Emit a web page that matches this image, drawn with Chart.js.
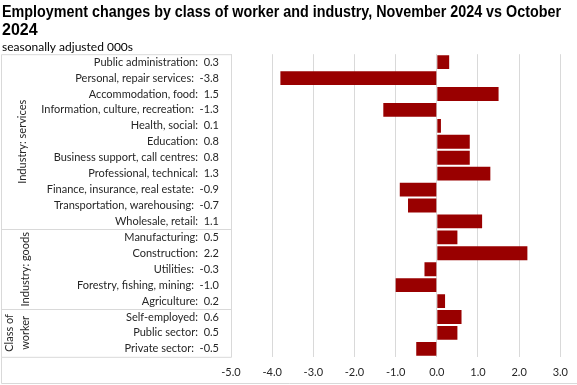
<!DOCTYPE html>
<html>
<head>
<meta charset="utf-8">
<script src="https://cdn.jsdelivr.net/npm/chart.js@4"></script>
<style>
  body { margin: 0; background: #fff; }
  #wrap { width: 577px; height: 385px; position: relative; }
</style>
</head>
<body>
<div id="wrap"><canvas id="chart"></canvas></div>
<script>
/* ------------------------------- Data ------------------------------- */
const categories = [
  'Public administration', 'Personal, repair services', 'Accommodation, food',
  'Information, culture, recreation', 'Health, social', 'Education',
  'Business support, call centres', 'Professional, technical',
  'Finance, insurance, real estate', 'Transportation, warehousing', 'Wholesale, retail',
  'Manufacturing', 'Construction', 'Utilities', 'Forestry, fishing, mining', 'Agriculture',
  'Self-employed', 'Public sector', 'Private sector'
];
const values = [0.3, -3.8, 1.5, -1.3, 0.1, 0.8, 0.8, 1.3, -0.9, -0.7, 1.1,
                0.5, 2.2, -0.3, -1.0, 0.2,
                0.6, 0.5, -0.5];
const groupNames = [['Industry: services'], ['Industry: goods'], ['Class of', 'worker']];
const groupSizes = [11, 5, 3];
const xMin = -5, xMax = 3;

const titleLines = ['Employment changes by class of worker and industry, November 2024 vs October', '2024'];
const subtitle = 'seasonally adjusted 000s';

const labels = categories.map((c, i) => `${c}:  ${values[i].toFixed(1)}`);
const FONT = 'Lato, "Open Sans", sans-serif';
const TXT = '#262626';

/* --------------------- Grouped label box plugin --------------------- */
const groupBox = {
  id: 'groupBox',
  afterDraw(chart) {
    const { ctx, chartArea, scales } = chart;
    const y = scales.y;
    const L = 1.5, R = chartArea.left + 0.5, T = chartArea.top + 0.5, B = chartArea.bottom + 0.5;
    const bottom = chart.height - 1.5;
    ctx.save();
    ctx.strokeStyle = '#d9d9d9';
    ctx.lineWidth = 1;
    ctx.beginPath();
    ctx.rect(L, T, R - L, B - T);
    ctx.moveTo(L, B); ctx.lineTo(L, bottom); ctx.lineTo(chart.width, bottom);
    ctx.stroke();

    let start = 0;
    groupSizes.forEach((n, g) => {
      const end = start + n - 1;
      const top = start === 0 ? chartArea.top : (y.getPixelForValue(start - 1) + y.getPixelForValue(start)) / 2;
      const bot = end === categories.length - 1 ? chartArea.bottom : (y.getPixelForValue(end) + y.getPixelForValue(end + 1)) / 2;
      if (end < categories.length - 1) {
        ctx.beginPath();
        ctx.moveTo(L, Math.round(bot) + 0.5);
        ctx.lineTo(R, Math.round(bot) + 0.5);
        ctx.stroke();
      }
      const lines = groupNames[g];
      ctx.fillStyle = TXT;
      ctx.font = `11px ${FONT}`;
      ctx.textAlign = 'center';
      ctx.textBaseline = 'middle';
      lines.forEach((t, k) => {
        const x = lines.length === 1 ? (g === 0 ? 22 : 25) : (k === 0 ? 9 : 25);
        ctx.save();
        ctx.translate(x, (top + bot) / 2);
        ctx.rotate(-Math.PI / 2);
        ctx.fillText(t, 0, 0);
        ctx.restore();
      });
      start += n;
    });
    ctx.restore();
  }
};

/* ------------------------------ Chart ------------------------------- */
new Chart(document.getElementById('chart'), {
  type: 'bar',
  data: {
    labels: labels,
    datasets: [{
      data: values,
      backgroundColor: '#990000',
      borderWidth: 0,
      categoryPercentage: 1,
      barPercentage: 0.87
    }]
  },
  options: {
    indexAxis: 'y',
    responsive: true,
    maintainAspectRatio: false,
    animation: false,
    layout: { padding: { left: 2, right: 16, top: 0, bottom: -3 } },
    plugins: {
      legend: { display: false },
      tooltip: { enabled: false },
      title: {
        display: true,
        text: titleLines,
        align: 'start',
        color: '#000',
        font: { family: '"Liberation Sans Narrow", sans-serif', size: 16, weight: 'bold', lineHeight: 1.15 },
        padding: { top: 3, bottom: 0 }
      },
      subtitle: {
        display: true,
        text: subtitle,
        align: 'start',
        color: '#000',
        font: { family: FONT, size: 12 },
        padding: { top: 0, bottom: 0 }
      }
    },
    scales: {
      x: {
        min: xMin,
        max: xMax,
        ticks: {
          stepSize: 1,
          callback: v => v.toFixed(1),
          color: TXT,
          font: { family: FONT, size: 11 },
          padding: 9
        },
        grid: { color: '#d9d9d9', drawTicks: false },
        border: { display: false }
      },
      y: {
        ticks: {
          color: TXT,
          font: { family: FONT, size: 11 },
          padding: 12,
          autoSkip: false
        },
        grid: { display: false, drawTicks: false },
        border: { display: false },
        afterFit: s => { s.width = 229; }
      }
    }
  },
  plugins: [groupBox]
});
</script>
</body>
</html>
